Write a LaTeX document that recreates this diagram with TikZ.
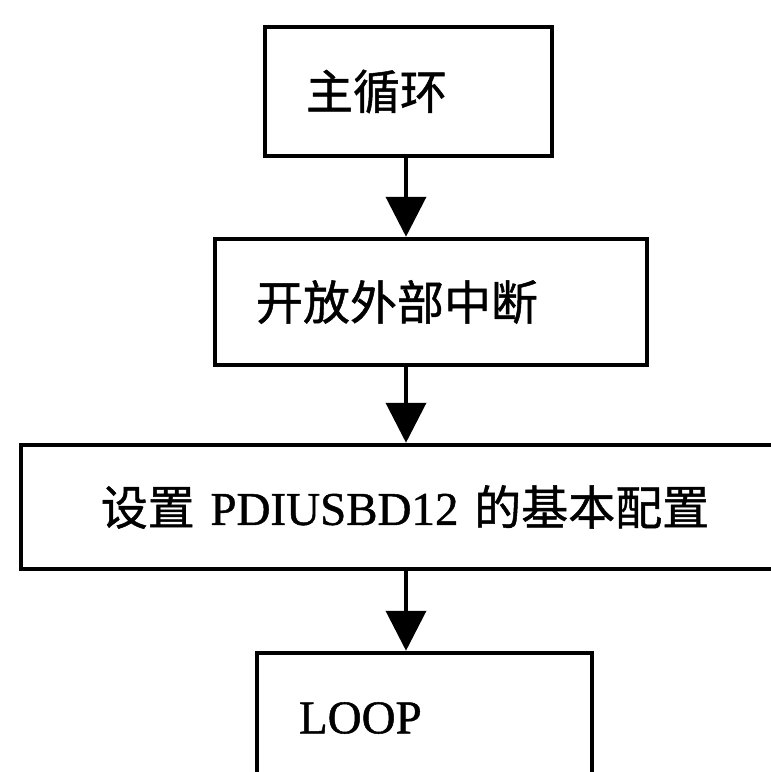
\documentclass[tikz,border=0pt]{standalone}
\usepackage{fontspec}
\setmainfont[FakeBold=1]{Liberation Serif}
\newfontfamily\cjk[FakeBold=1]{Noto Sans CJK SC}
\usetikzlibrary{arrows.meta}

\begin{document}
\begin{tikzpicture}[x=1pt,y=-1pt,
  stepbox/.style={draw=black, line width=4.5pt, rectangle, inner sep=0pt,
    font=\fontsize{47}{56}\selectfont},
  flow/.style={draw=black, line width=4pt,
    -{Triangle[length=40pt,width=40pt]}}]
  \useasboundingbox (0,0) rectangle (771,772);
  \clip (0,0) rectangle (771,772);
  \fill[white] (0,0) rectangle (771,772);

  % process boxes, top to bottom
  \node[stepbox, minimum width=287pt, minimum height=129pt,
        text width=205pt, align=left] (b1) at (408.5,91.5) {\cjk 主循环};
  \node[stepbox, minimum width=432pt, minimum height=126pt,
        text width=350pt, align=left] (b2) at (431,302) {\cjk 开放外部中断};
  \node[stepbox, minimum width=768pt, minimum height=124pt,
        text width=700pt, align=center] (b3) at (405,507)
        {{\cjk 设置} PDIUSBD12 {\cjk 的基本配置}};
  \node[stepbox, minimum width=335pt, minimum height=130pt,
        text width=251pt, align=left] (b4) at (424.5,718) {LOOP};

  % common column for the connectors
  \coordinate (ax) at (406,0);
  \draw[flow] (b1.south -| ax) -- (b2.north -| ax);
  \draw[flow] (b2.south -| ax) -- (b3.north -| ax);
  \draw[flow] (b3.south -| ax) -- (b4.north -| ax);
\end{tikzpicture}
\end{document}
